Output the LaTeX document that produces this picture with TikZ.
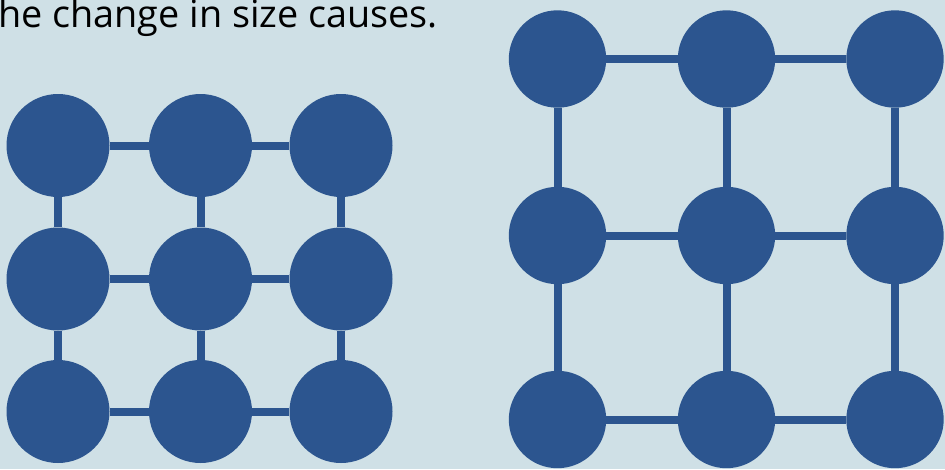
\documentclass[tikz,border=0pt]{standalone}
\usepackage{fontspec}
\setmainfont{Open Sans}
\definecolor{bg}{RGB}{207,224,230}
\definecolor{dot}{RGB}{44,85,143}
\begin{document}
\begin{tikzpicture}[x=1pt,y=-1pt,
  bigdot/.style={circle,fill=dot,draw=none,inner sep=0pt,minimum size=103pt},
  meddot/.style={circle,fill=dot,draw=none,inner sep=0pt,minimum size=97.4pt},
  link/.style={draw=dot,line width=8pt}]
\fill[bg] (0,0) rectangle (945,469);
\useasboundingbox (0,0) rectangle (945,469);
\node[anchor=base west,inner sep=0pt,font=\fontsize{37.8}{44}\selectfont] (txt) at (-2,27) {he change in size causes.};
% left grid
\foreach \c/\x in {1/58,2/200.5,3/341}{
  \foreach \r/\y in {1/145.5,2/279,3/411.5}{
    \node[bigdot] (L\r\c) at (\x,\y) {};
  }}
% right grid
\foreach \c/\x in {1/557.5,2/726.5,3/895}{
  \foreach \r/\y in {1/59,2/235.5,3/419.5}{
    \node[meddot] (R\r\c) at (\x,\y) {};
  }}
\foreach \g in {L,R}{
  \foreach \r in {1,2,3}{
    \draw[link] (\g\r1) -- (\g\r2);
    \draw[link] (\g\r2) -- (\g\r3);
  }
  \foreach \c in {1,2,3}{
    \draw[link] (\g1\c) -- (\g2\c);
    \draw[link] (\g2\c) -- (\g3\c);
  }}
\end{tikzpicture}
\end{document}
